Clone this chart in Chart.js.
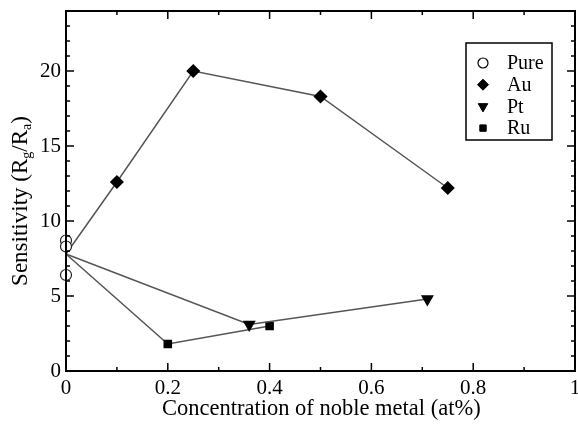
<!DOCTYPE html>
<html>
<head>
<meta charset="utf-8">
<script src="https://cdn.jsdelivr.net/npm/chart.js@4.4.1/dist/chart.umd.min.js"></script>
<style>
  html, body { margin: 0; padding: 0; background: #fff; }
  #wrap { width: 578px; height: 431px; }
</style>
</head>
<body>
<div id="wrap"><canvas id="chart" width="578" height="431"></canvas></div>
<script>
// dữ liệu
const xTicks = [0, 0.2, 0.4, 0.6, 0.8, 1];
const yTicks = [0, 5, 10, 15, 20];

const pureX = [0, 0, 0];
const pureY = [8.7, 8.3, 6.4];

const auX = [0, 0.1, 0.25, 0.5, 0.75];
const auY = [7.8, 12.6, 20.0, 18.3, 12.2];

const ptX = [0, 0.36, 0.71];
const ptY = [7.8, 3.1, 4.8];

const ruX = [0, 0.2, 0.4];
const ruY = [7.8, 1.8, 3.0];

const FONT = "'Liberation Serif', 'DejaVu Serif', serif";
const LINE = "#555";

function pts(xs, ys) {
  return xs.map((x, i) => ({ x: x, y: ys[i] }));
}

// điểm đầu (0, 7.8) chỉ là chỗ nối đường, không vẽ marker
function radii(n, r) {
  return Array.from({ length: n }, (_, i) => (i === 0 ? 0 : r));
}

// khung + vạch chia hướng vào trong, cả 4 cạnh
const framePlugin = {
  id: "frame",
  afterDatasetsDraw(chart) {
    const { ctx, chartArea: a, scales } = chart;
    const xs = scales.x, ys = scales.y;
    ctx.save();
    ctx.strokeStyle = "#000";
    ctx.lineWidth = 2;
    ctx.strokeRect(a.left, a.top, a.right - a.left, a.bottom - a.top);
    ctx.lineWidth = 1.5;
    ctx.beginPath();
    for (let i = 1; i < 10; i++) {
      const v = i / 10;
      const px = xs.getPixelForValue(v);
      const len = i % 2 === 0 ? 8 : 4;
      ctx.moveTo(px, a.bottom); ctx.lineTo(px, a.bottom - len);
      ctx.moveTo(px, a.top); ctx.lineTo(px, a.top + len);
    }
    for (let v = 1; v < 24; v++) {
      const py = ys.getPixelForValue(v);
      const len = v % 5 === 0 ? 8 : 4;
      ctx.moveTo(a.left, py); ctx.lineTo(a.left + len, py);
      ctx.moveTo(a.right, py); ctx.lineTo(a.right - len, py);
    }
    ctx.stroke();
    ctx.restore();
  },
  afterDraw(chart) {
    const { ctx } = chart;
    ctx.save();
    ctx.fillStyle = "#000";
    // tiêu đề trục x
    ctx.font = "22.5px " + FONT;
    ctx.textAlign = "left";
    ctx.textBaseline = "middle";
    ctx.fillText("Concentration of noble metal (at%)", 162, 409);

    // tiêu đề trục y có chỉ số dưới
    ctx.translate(21, 201);
    ctx.rotate(-Math.PI / 2);
    const parts = [
      ["Sensitivity (R", false], ["g", true], ["/R", false], ["a", true], [")", false]
    ];
    const big = "23px " + FONT, small = "14px " + FONT;
    let total = 0;
    parts.forEach(([t, sub]) => { ctx.font = sub ? small : big; total += ctx.measureText(t).width; });
    let cx = -total / 2;
    ctx.textAlign = "left";
    parts.forEach(([t, sub]) => {
      ctx.font = sub ? small : big;
      ctx.fillText(t, cx, sub ? 6 : 0);
      cx += ctx.measureText(t).width;
    });
    ctx.restore();

    // chú thích
    ctx.save();
    ctx.strokeStyle = "#000";
    ctx.lineWidth = 1.5;
    ctx.fillStyle = "#fff";
    ctx.fillRect(466, 43, 86, 97);
    ctx.strokeRect(466, 43, 86, 97);
    ctx.font = "20px " + FONT;
    ctx.textBaseline = "middle";
    ctx.textAlign = "left";
    chart.data.datasets.forEach((ds, i) => {
      const y = 63 + i * 21.7;
      const r = Array.isArray(ds.pointRadius) ? ds.pointRadius[ds.pointRadius.length - 1] : ds.pointRadius;
      ctx.fillStyle = ds.pointBackgroundColor;
      ctx.strokeStyle = "#000";
      ctx.lineWidth = ds.pointBorderWidth || 1;
      Chart.helpers.drawPoint(ctx, {
        pointStyle: ds.pointStyle, radius: r - 0.5, rotation: ds.pointRotation || 0, borderWidth: 1
      }, 483, y);
      ctx.fillStyle = "#000";
      ctx.fillText(ds.label, 507, y + 1);
    });
    ctx.restore();
  }
};

const ctx = document.getElementById("chart").getContext("2d");

const myChart = new Chart(ctx, {
  type: "scatter",
  data: {
    datasets: [
      {
        label: "Pure",
        data: pts(pureX, pureY),
        showLine: false,
        pointStyle: "circle",
        pointRadius: 5.5,
        pointBackgroundColor: "#fff",
        pointBorderColor: "#222",
        pointBorderWidth: 1.2,
        clip: false,
      },
      {
        label: "Au",
        data: pts(auX, auY),
        showLine: true,
        borderColor: LINE,
        borderWidth: 1.5,
        pointStyle: "rectRot",
        pointRadius: radii(auX.length, 6),
        pointBackgroundColor: "#000",
        pointBorderColor: "#000",
        clip: false,
      },
      {
        label: "Pt",
        data: pts(ptX, ptY),
        showLine: true,
        borderColor: LINE,
        borderWidth: 1.5,
        pointStyle: "triangle",
        pointRotation: 180,
        pointRadius: radii(ptX.length, 6),
        pointBackgroundColor: "#000",
        pointBorderColor: "#000",
        clip: false,
      },
      {
        label: "Ru",
        data: pts(ruX, ruY),
        showLine: true,
        borderColor: LINE,
        borderWidth: 1.5,
        pointStyle: "rect",
        pointRadius: radii(ruX.length, 5),
        pointBackgroundColor: "#000",
        pointBorderColor: "#000",
        clip: false,
      },
    ],
  },
  options: {
    responsive: false,
    animation: false,
    layout: { autoPadding: false, padding: { top: 11, right: 3, left: 0, bottom: 0 } },
    scales: {
      x: {
        type: "linear",
        min: 0,
        max: 1,
        grid: { display: false, tickLength: 0 },
        border: { display: false },
        afterBuildTicks: (s) => { s.ticks = xTicks.map((v) => ({ value: v })); },
        afterFit: (s) => { s.height = 60; s.paddingLeft = 0; s.paddingRight = 0; },
        ticks: {
          color: "#000",
          font: { family: FONT, size: 21 },
          padding: 5,
          maxRotation: 0,
          callback: (v) => String(v),
        },
      },
      y: {
        type: "linear",
        min: 0,
        max: 24,
        grid: { display: false, tickLength: 0 },
        border: { display: false },
        afterBuildTicks: (s) => { s.ticks = yTicks.map((v) => ({ value: v })); },
        afterFit: (s) => { s.width = 66; s.paddingTop = 0; s.paddingBottom = 0; },
        ticks: {
          color: "#000",
          font: { family: FONT, size: 21 },
          padding: 5,
          callback: (v) => String(v),
        },
      },
    },
    plugins: {
      legend: { display: false },
      tooltip: { enabled: false },
    },
  },
  plugins: [framePlugin],
});
</script>
</body>
</html>
